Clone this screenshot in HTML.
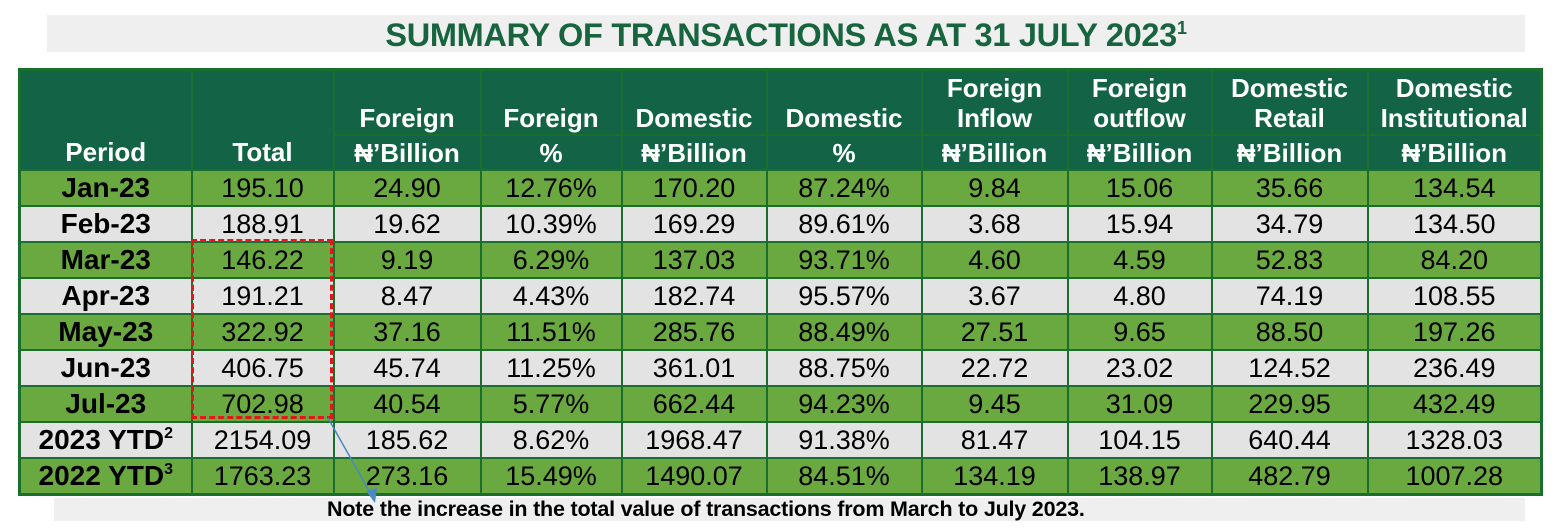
<!DOCTYPE html>
<html><head><meta charset="utf-8"><style>
body{margin:0;width:1562px;height:530px;background:#fff;position:relative;font-family:"Liberation Sans",Arial,sans-serif;overflow:hidden}
.title{position:absolute;left:47px;top:15px;width:1478px;height:37px;background:#efefef;color:#17643f;font-weight:bold;font-size:32.5px;text-align:center;line-height:40px;letter-spacing:-0.3px}
.title sup{font-size:18px;vertical-align:top;line-height:26px}
table{position:absolute;left:18px;top:68px;border-collapse:collapse;border:3px solid #1a6e2e}
td{border:2.5px solid #1a6e2e;text-align:center;font-size:27px;padding:0;line-height:1;white-space:nowrap;overflow:hidden}
tr.h td{background:#136446;color:#fff;font-weight:bold;font-size:26px}
tr.h1 td{height:62px;vertical-align:bottom;padding-bottom:1px;line-height:30px}
tr.h2 td{height:33px}
tr.g td{background:#6aa840}
tr.w td{background:#e3e3e3}
tr.d td{height:34px}
td.p{font-weight:bold;font-size:28px}
td.p sup{font-size:16px;vertical-align:top;line-height:16px}
.note{position:absolute;left:54px;top:498px;width:1471px;height:23px;background:#efefef;font-weight:bold;font-size:21.5px;line-height:22px;padding-left:273px;box-sizing:border-box;white-space:nowrap;letter-spacing:-0.2px}
.red{position:absolute;left:191px;top:239px;width:136px;height:174px;border:3.5px dashed #e8141c}
svg{position:absolute;left:0;top:0}
</style></head><body>
<div class="title">SUMMARY OF TRANSACTIONS AS AT 31 JULY 2023<sup>1</sup></div>
<table>
<colgroup><col style="width:172px"><col style="width:142px"><col style="width:147px"><col style="width:141px"><col style="width:145px"><col style="width:155px"><col style="width:146px"><col style="width:144px"><col style="width:156px"><col style="width:174px"></colgroup>
<tr class="h h1"><td rowspan="2" style="vertical-align:bottom;padding-bottom:2px">Period</td><td rowspan="2" style="vertical-align:bottom;padding-bottom:2px">Total</td><td>Foreign</td><td>Foreign</td><td>Domestic</td><td>Domestic</td><td>Foreign<br>Inflow</td><td>Foreign<br>outflow</td><td>Domestic<br>Retail</td><td>Domestic<br>Institutional</td></tr>
<tr class="h h2"><td>₦’Billion</td><td>%</td><td>₦’Billion</td><td>%</td><td>₦’Billion</td><td>₦’Billion</td><td>₦’Billion</td><td>₦’Billion</td></tr>
<tr class="d g"><td class="p">Jan-23</td><td>195.10</td><td>24.90</td><td>12.76%</td><td>170.20</td><td>87.24%</td><td>9.84</td><td>15.06</td><td>35.66</td><td>134.54</td></tr>
<tr class="d w"><td class="p">Feb-23</td><td>188.91</td><td>19.62</td><td>10.39%</td><td>169.29</td><td>89.61%</td><td>3.68</td><td>15.94</td><td>34.79</td><td>134.50</td></tr>
<tr class="d g"><td class="p">Mar-23</td><td>146.22</td><td>9.19</td><td>6.29%</td><td>137.03</td><td>93.71%</td><td>4.60</td><td>4.59</td><td>52.83</td><td>84.20</td></tr>
<tr class="d w"><td class="p">Apr-23</td><td>191.21</td><td>8.47</td><td>4.43%</td><td>182.74</td><td>95.57%</td><td>3.67</td><td>4.80</td><td>74.19</td><td>108.55</td></tr>
<tr class="d g"><td class="p">May-23</td><td>322.92</td><td>37.16</td><td>11.51%</td><td>285.76</td><td>88.49%</td><td>27.51</td><td>9.65</td><td>88.50</td><td>197.26</td></tr>
<tr class="d w"><td class="p">Jun-23</td><td>406.75</td><td>45.74</td><td>11.25%</td><td>361.01</td><td>88.75%</td><td>22.72</td><td>23.02</td><td>124.52</td><td>236.49</td></tr>
<tr class="d g"><td class="p">Jul-23</td><td>702.98</td><td>40.54</td><td>5.77%</td><td>662.44</td><td>94.23%</td><td>9.45</td><td>31.09</td><td>229.95</td><td>432.49</td></tr>
<tr class="d w"><td class="p">2023 YTD<sup>2</sup></td><td>2154.09</td><td>185.62</td><td>8.62%</td><td>1968.47</td><td>91.38%</td><td>81.47</td><td>104.15</td><td>640.44</td><td>1328.03</td></tr>
<tr class="d g"><td class="p">2022 YTD<sup>3</sup></td><td>1763.23</td><td>273.16</td><td>15.49%</td><td>1490.07</td><td>84.51%</td><td>134.19</td><td>138.97</td><td>482.79</td><td>1007.28</td></tr>
</table>
<div class="note">Note the increase in the total value of transactions from March to July 2023.</div>
<div class="red"></div>
<svg width="1562" height="530"><line x1="328" y1="418" x2="372" y2="496" stroke="#4a8ac4" stroke-width="1.5"/><polygon points="375,503 366,491 377,488" fill="#4a8ac4"/></svg>
</body></html>
